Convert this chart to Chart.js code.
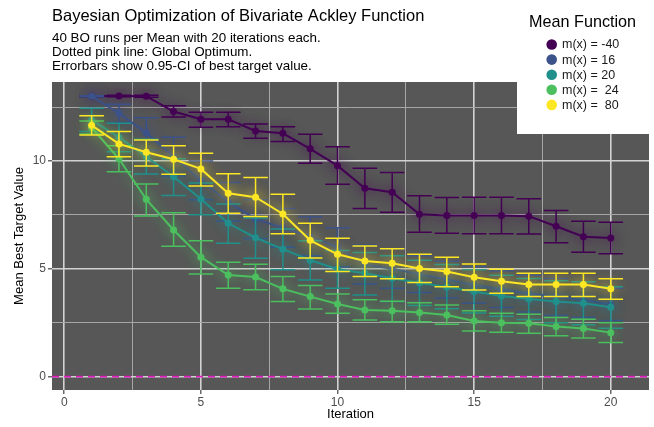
<!DOCTYPE html>
<html>
<head>
<meta charset="utf-8">
<script src="https://cdn.jsdelivr.net/npm/chart.js@4.4.0/dist/chart.umd.min.js"></script>
<style>
  html, body { margin: 0; padding: 0; background: #fff; }
  #wrap { width: 654px; height: 427px; }
</style>
</head>
<body>
<div id="wrap"><canvas id="bayesChart" width="654" height="427"></canvas></div>
<script>
// iterations and series (mean best target value + 95% CI bounds)
const iterations = [1, 2, 3, 4, 5, 6, 7, 8, 9, 10, 11, 12, 13, 14, 15, 16, 17, 18, 19, 20];
const seriesLabels = ['m(x) = -40', 'm(x) = 16', 'm(x) = 20', 'm(x) =  24', 'm(x) =  80'];
const seriesColors = ['#440154', '#3b528b', '#21908c', '#4cc05f', '#fde725'];

const meanNeg40 = [13.0, 13.01, 13.0, 12.29, 11.93, 11.93, 11.39, 11.28, 10.56, 9.78, 8.73, 8.55, 7.53, 7.47, 7.47, 7.47, 7.44, 6.97, 6.49, 6.43];
const lowNeg40  = [12.98, 12.98, 12.95, 12.04, 11.56, 11.59, 11.05, 10.9, 9.89, 8.92, 7.79, 7.62, 6.69, 6.65, 6.62, 6.62, 6.61, 6.21, 5.77, 5.70];
const highNeg40 = [13.02, 13.04, 13.05, 12.56, 12.26, 12.26, 11.71, 11.59, 11.24, 10.66, 9.66, 9.46, 8.39, 8.30, 8.32, 8.32, 8.25, 7.70, 7.20, 7.16];

const mean16 = [13.0, 12.21, 11.3, 10.2, 9.1, 8.1, 7.3, 6.9, 6.5, 6.0, 5.2, 5.0, 4.75, 4.5, 4.25, 4.05, 3.85, 3.7, 3.55, 3.35];
const low16  = [12.98, 11.78, 10.5, 9.3, 8.2, 7.2, 6.4, 6.0, 5.6, 5.1, 4.3, 4.1, 3.9, 3.65, 3.4, 3.2, 3.0, 2.85, 2.75, 2.6];
const high16 = [13.02, 12.63, 12.0, 11.1, 10.0, 9.0, 8.2, 7.8, 7.4, 6.9, 6.1, 5.9, 5.6, 5.35, 5.1, 4.9, 4.7, 4.55, 4.4, 4.1];

const mean20 = [11.9, 11.1, 10.2, 9.27, 8.24, 7.11, 6.44, 5.91, 5.4, 4.98, 4.79, 4.56, 4.35, 4.15, 3.95, 3.74, 3.6, 3.48, 3.4, 3.22];
const low20  = [11.36, 10.43, 9.4, 8.4, 7.5, 6.18, 5.49, 4.95, 4.48, 4.1, 3.79, 3.48, 3.3, 3.15, 2.95, 2.8, 2.65, 2.5, 2.4, 2.24];
const high20 = [12.44, 11.75, 11.0, 10.1, 8.98, 8.0, 7.35, 6.85, 6.3, 5.85, 5.75, 5.6, 5.4, 5.2, 4.95, 4.7, 4.55, 4.45, 4.4, 4.17];

const mean24 = [11.55, 10.1, 8.22, 6.8, 5.54, 4.71, 4.62, 4.07, 3.71, 3.37, 3.09, 3.05, 2.97, 2.86, 2.58, 2.5, 2.47, 2.32, 2.23, 2.04];
const low24  = [11.25, 9.5, 7.45, 6.05, 4.76, 4.1, 4.03, 3.48, 3.14, 2.94, 2.63, 2.55, 2.54, 2.43, 2.12, 2.06, 2.01, 1.89, 1.79, 1.58];
const high24 = [11.85, 10.7, 8.93, 7.6, 6.3, 5.3, 5.21, 4.64, 4.22, 3.83, 3.56, 3.49, 3.43, 3.32, 3.06, 2.94, 2.89, 2.74, 2.66, 2.5];

const mean80 = [11.65, 10.79, 10.4, 10.08, 9.63, 8.5, 8.32, 7.54, 6.32, 5.67, 5.36, 5.26, 5.01, 4.87, 4.61, 4.42, 4.27, 4.27, 4.27, 4.07];
const low80  = [11.2, 10.2, 9.77, 9.38, 8.84, 7.57, 7.42, 6.62, 5.5, 4.87, 4.64, 4.54, 4.36, 4.17, 4.02, 3.87, 3.71, 3.71, 3.71, 3.59];
const high80 = [12.1, 11.36, 10.97, 10.71, 10.36, 9.41, 9.23, 8.46, 7.11, 6.42, 6.06, 5.93, 5.67, 5.54, 5.22, 4.98, 4.79, 4.79, 4.79, 4.54];

const globalOptimum = 0;
const xTicks = [0, 2.5, 5, 7.5, 10, 12.5, 15, 17.5, 20];
const yTicks = [0, 2.5, 5, 7.5, 10, 12.5];
const xRange = [-0.45, 21.4];
const yRange = [-0.62, 13.66];

const titleText = 'Bayesian Optimization of Bivariate Ackley Function';
const subtitleLines = [
  '40 BO runs per Mean with 20 iterations each.',
  'Dotted pink line: Global Optimum.',
  'Errorbars show 0.95-CI of best target value.'
];

const FONT = '"Liberation Sans", Arial, sans-serif';
Chart.defaults.font.family = FONT;

const means = [meanNeg40, mean16, mean20, mean24, mean80];
const lows = [lowNeg40, low16, low20, low24, low80];
const highs = [highNeg40, high16, high20, high24, high80];

function toPoints(arr) {
  return iterations.map((it, i) => ({ x: it, y: arr[i] }));
}

function withAlpha(hex, a) {
  const n = parseInt(hex.slice(1), 16);
  return `rgba(${(n >> 16) & 255}, ${(n >> 8) & 255}, ${n & 255}, ${a})`;
}

const datasets = means.map((m, i) => ({
  label: seriesLabels[i],
  data: toPoints(m),
  errLow: lows[i],
  errHigh: highs[i],
  borderColor: seriesColors[i],
  backgroundColor: seriesColors[i],
  borderWidth: 2,
  pointRadius: 3.5,
  pointBorderWidth: 0,
  pointHoverRadius: 3.5,
  tension: 0,
  order: 4 - i,
  glow: true
}));

// global optimum reference line
datasets.push({
  label: 'optimum',
  data: [{ x: xRange[0], y: globalOptimum }, { x: xRange[1], y: globalOptimum }],
  borderColor: '#e01fbf',
  borderWidth: 1.8,
  borderDash: [7, 5],
  pointRadius: 0,
  order: -1
});

const panelBg = {
  id: 'panelBg',
  beforeDraw(chart) {
    const { ctx, chartArea: a } = chart;
    ctx.save();
    ctx.fillStyle = '#575757';
    ctx.fillRect(a.left, a.top, a.right - a.left, a.bottom - a.top);
    ctx.restore();
  }
};

// error bars under each line, plus a soft glow on the line itself
const errorBars = {
  id: 'errorBars',
  beforeDatasetDraw(chart, args) {
    const ds = chart.data.datasets[args.index];
    if (!ds.errLow) return;
    const { ctx, scales: { x, y } } = chart;
    const half = 0.45;
    ctx.save();
    ctx.strokeStyle = ds.borderColor;
    ctx.lineWidth = 1.5;
    ctx.beginPath();
    iterations.forEach((it, i) => {
      const px = x.getPixelForValue(it);
      const x0 = x.getPixelForValue(it - half);
      const x1 = x.getPixelForValue(it + half);
      const lo = y.getPixelForValue(ds.errLow[i]);
      const hi = y.getPixelForValue(ds.errHigh[i]);
      ctx.moveTo(x0, hi); ctx.lineTo(x1, hi);
      ctx.moveTo(x0, lo); ctx.lineTo(x1, lo);
      ctx.moveTo(px, hi); ctx.lineTo(px, lo);
    });
    ctx.stroke();
    ctx.restore();
    if (ds.glow) {
      ctx.shadowColor = withAlpha(ds.borderColor, 0.9);
      ctx.shadowBlur = 13;
    }
  },
  afterDatasetDraw(chart) {
    chart.ctx.shadowColor = 'rgba(0,0,0,0)';
    chart.ctx.shadowBlur = 0;
  }
};

const headerAndLegend = {
  id: 'headerAndLegend',
  afterDraw(chart) {
    const ctx = chart.ctx;
    ctx.save();
    ctx.fillStyle = '#000';
    ctx.textBaseline = 'middle';
    ctx.textAlign = 'left';
    ctx.font = `16.5px ${FONT}`;
    ctx.fillText(titleText, 52, 16);
    ctx.font = `13.4px ${FONT}`;
    subtitleLines.forEach((t, i) => ctx.fillText(t, 52, 38 + i * 14.4));

    // legend box sits over the top-right corner of the panel
    ctx.fillStyle = '#fff';
    ctx.fillRect(517, 0, 137, 134);
    ctx.fillStyle = '#000';
    ctx.font = `16.2px ${FONT}`;
    ctx.fillText('Mean Function', 529, 23);
    ctx.font = `12.5px ${FONT}`;
    seriesLabels.forEach((lab, i) => {
      const cy = 44.5 + i * 15.1;
      ctx.beginPath();
      ctx.fillStyle = seriesColors[i];
      ctx.arc(551.7, cy, 5.3, 0, Math.PI * 2);
      ctx.fill();
      ctx.fillStyle = '#1a1a1a';
      ctx.fillText(lab, 562, cy + 0.5);
    });
    ctx.restore();
  }
};

function gridColor(c) {
  return c.tick && c.tick.value % 5 === 0 ? '#d2d2d2' : '#a6a6a6';
}
function gridWidth(c) {
  return c.tick && c.tick.value % 5 === 0 ? 1.6 : 1;
}
function tickMarkColor(c) {
  return c.tick && c.tick.value % 5 === 0 ? '#444' : 'rgba(0,0,0,0)';
}

new Chart(document.getElementById('bayesChart'), {
  type: 'line',
  data: { datasets },
  plugins: [panelBg, errorBars, headerAndLegend],
  options: {
    responsive: false,
    animation: false,
    layout: { padding: { top: 82, right: 5, left: 0, bottom: 0 } },
    plugins: {
      legend: { display: false },
      tooltip: { enabled: false }
    },
    scales: {
      x: {
        type: 'linear',
        min: xRange[0],
        max: xRange[1],
        afterBuildTicks(scale) { scale.ticks = xTicks.map(v => ({ value: v })); },
        afterFit(scale) { scale.height = 37; },
        border: { display: false },
        grid: { color: gridColor, lineWidth: gridWidth, tickColor: tickMarkColor, tickLength: 4, tickWidth: 1.2 },
        ticks: {
          autoSkip: false,
          maxRotation: 0,
          padding: 1,
          color: '#4d4d4d',
          font: { size: 12 },
          callback: v => (v % 5 === 0 ? String(v) : '')
        },
        title: { display: true, text: 'Iteration', color: '#000', font: { size: 13 }, padding: { top: 5, bottom: 5 } }
      },
      y: {
        type: 'linear',
        min: yRange[0],
        max: yRange[1],
        afterBuildTicks(scale) { scale.ticks = yTicks.map(v => ({ value: v })); },
        afterFit(scale) { scale.width = 52; },
        border: { display: false },
        grid: { color: gridColor, lineWidth: gridWidth, tickColor: tickMarkColor, tickLength: 4, tickWidth: 1.2 },
        ticks: {
          autoSkip: false,
          padding: 2,
          color: '#4d4d4d',
          font: { size: 12 },
          callback: v => (v % 5 === 0 ? String(v) : '')
        },
        title: { display: true, text: 'Mean Best Target Value', color: '#000', font: { size: 13 }, padding: { top: 12, bottom: 12 } }
      }
    }
  }
});
</script>
</body>
</html>
